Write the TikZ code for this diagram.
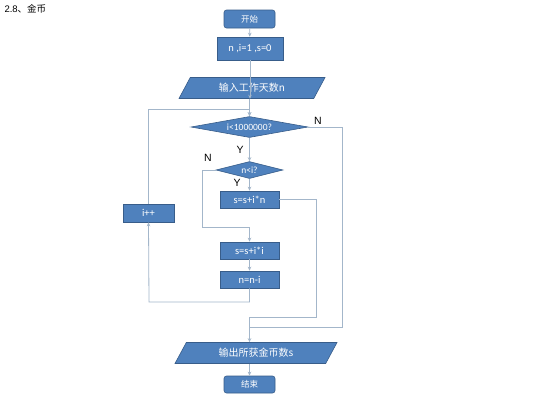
\documentclass[tikz,border=0pt]{standalone}
\usepackage{fontspec}
\setmainfont{Carlito}
\newfontfamily\cjk{Noto Sans CJK SC}
\newfontfamily\arial{Liberation Sans}
\usetikzlibrary{shapes.geometric,arrows.meta}
\definecolor{boxblue}{HTML}{4F81BD}
\definecolor{edgeblue}{HTML}{385D8A}
\definecolor{linegray}{HTML}{A3B6CA}
\begin{document}
\begin{tikzpicture}[x=1pt,y=-1pt,
    box/.style={draw=edgeblue,fill=boxblue,text=white,inner sep=1pt,line width=0.6pt,font=\fontsize{10.5}{12}\selectfont},
    proc/.style={box,rectangle,minimum width=59,minimum height=17},
    term/.style={box,rectangle,rounded corners=2.5pt,minimum width=51,minimum height=18,font=\cjk\fontsize{8.5}{10}\selectfont},
    io/.style={box,trapezium,trapezium left angle=45,trapezium right angle=135,trapezium stretches body,minimum height=21,font=\cjk\fontsize{10}{12}\selectfont},
    test/.style={box,diamond,inner sep=0pt,font=\fontsize{9.5}{10}\selectfont},
    flow/.style={draw=linegray,line width=0.8pt},
    arr/.style={flow,-{Stealth[length=4pt,width=3.5pt]}},
    yn/.style={font=\arial\fontsize{10.5}{12}\selectfont}]
  \useasboundingbox[fill=white] (0,0) rectangle (533,400);
  \node[anchor=west,font=\fontsize{9.5}{10}\selectfont] (title) at (1,9) {\arial 2.8\cjk 、金币};
  % nodes
  \node[term] (start) at (249.5,19) {开始};
  \node[proc,minimum width=66,minimum height=23] (init) at (250,48.5) {n ,i=1 ,s=0};
  \node[io,minimum width=146] (input) at (252,88) {输入工作天数n};
  \node[test,aspect=5.6,minimum width=117,minimum height=21] (cond1) at (249.5,127) {i<1000000?};
  \node[test,aspect=4,minimum width=67,minimum height=17] (cond2) at (249.5,170) {n<i?};
  \node[proc] (sin) at (249.5,199.5) {s=s+i*n};
  \node[proc] (sii) at (249.5,250.5) {s=s+i*i};
  \node[proc] (nni) at (249.5,279.5) {n=n-i};
  \node[proc,minimum width=51,minimum height=18] (inc) at (148.5,213) {i++};
  \node[io,minimum width=162] (output) at (256,353) {输出所获金币数s};
  \node[term,minimum height=17] (stop) at (249.5,384.5) {结束};
  % joints
  \coordinate (top) at (249.5,109);
  \coordinate (j1) at (249.5,317);
  \coordinate (j2) at (249.5,327);
  % connectors
  \draw[arr] (start) -- (init);
  \draw[arr] (init) -- (input.south -| init);
  \draw[arr] (cond1.north |- input.south) -- (cond1.north);
  \draw[arr] (inc.north) |- (top) -- (cond1.north);
  \draw[arr] (cond1.south) -- (cond2.north);
  \draw[arr] (cond2.south) -- (sin.north);
  \draw[arr] (cond2.west) -- ++(-13,0) |- (249.5,227) -- (sii.north);
  \draw[arr] (sii.south) -- (nni.north);
  \draw[arr] (nni.south) |- (149,302) -- (inc.south);
  \draw[flow] (sin.east) -| (316,317) -- (j1);
  \draw[flow] (cond1.east) -| (342,327) -- (j2);
  \draw[arr] (j1) -- (j1 |- output.north);
  \draw[arr] (output.south -| stop) -- (stop.north);
  % labels
  \node[yn] (n1) at (318,121) {N};
  \node[yn] (y1) at (240,150) {Y};
  \node[yn] (n2) at (208,158) {N};
  \node[yn] (y2) at (237,183) {Y};
\end{tikzpicture}
\end{document}
